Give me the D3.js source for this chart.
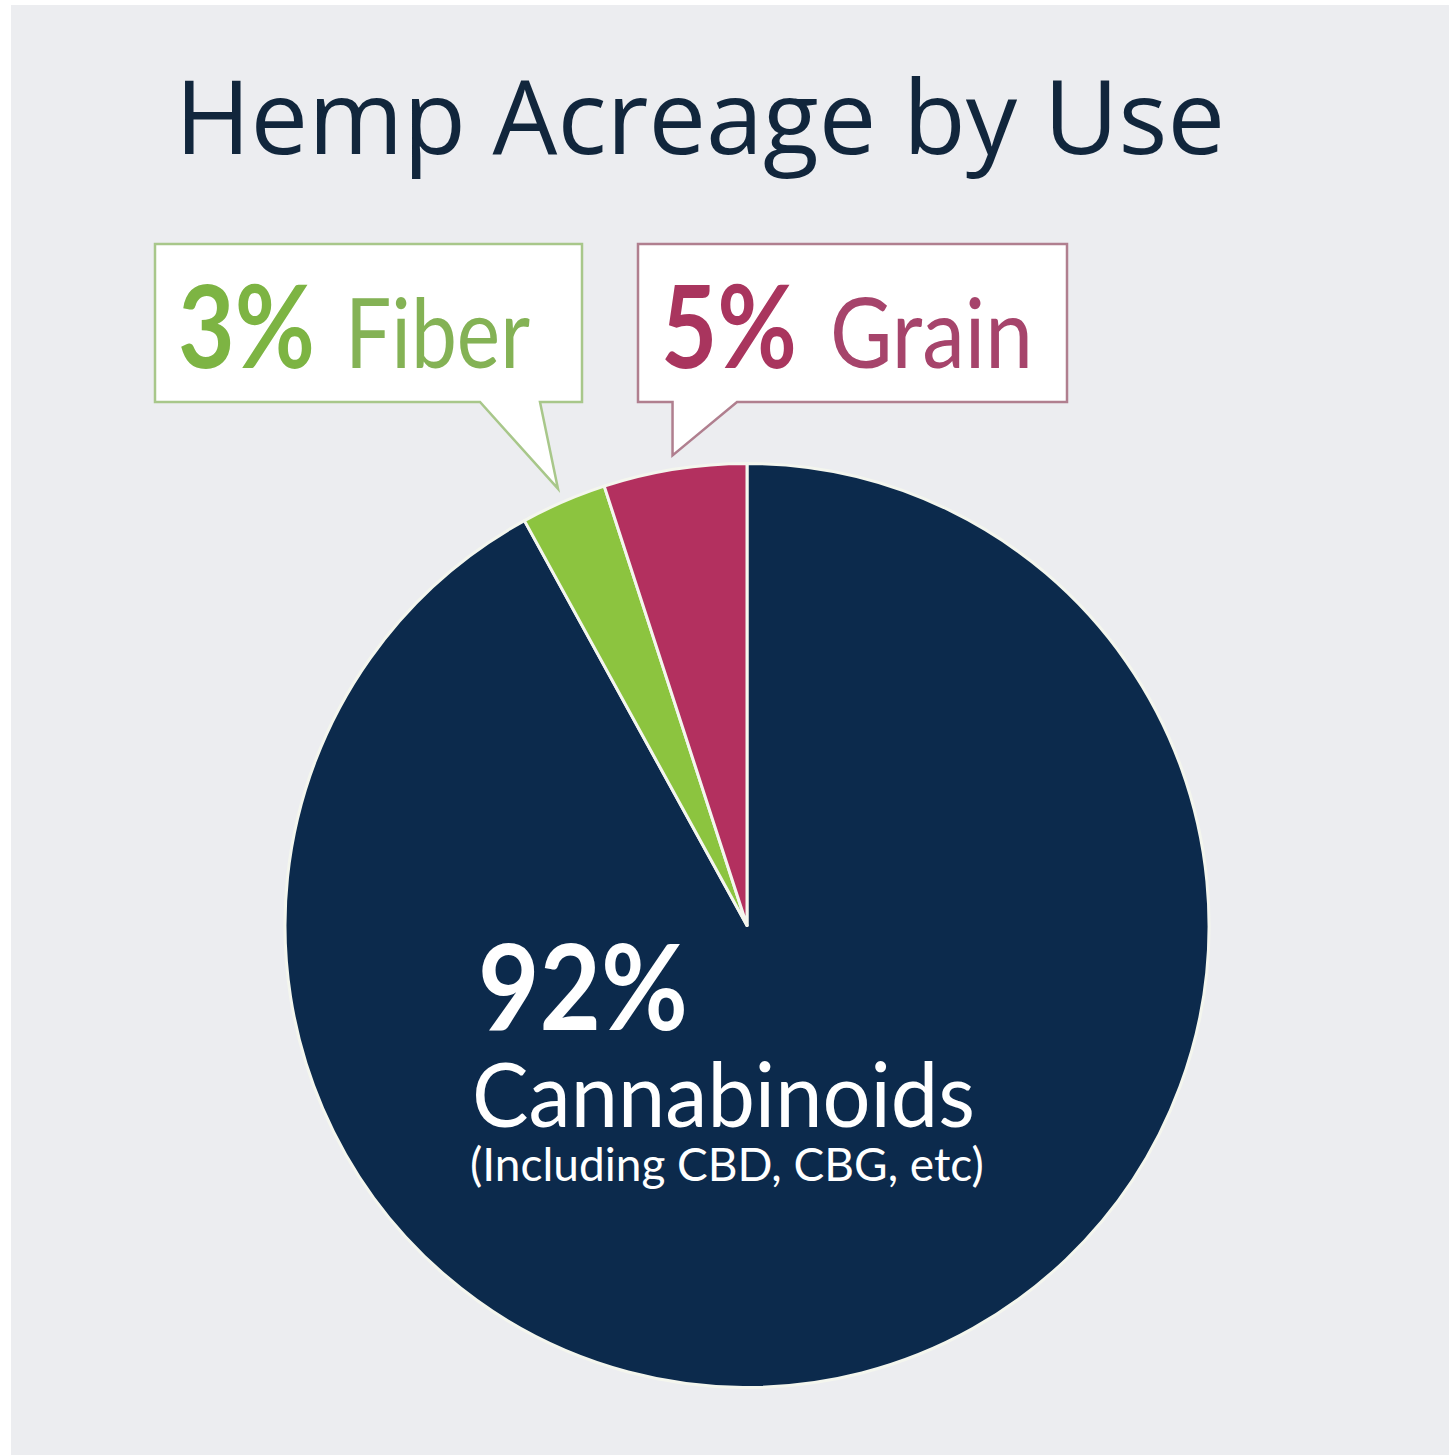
<!DOCTYPE html>
<html>
<head>
<meta charset="utf-8">
<script src="https://cdn.jsdelivr.net/npm/d3@7"></script>
<style>
  body { margin: 0; background: #ffffff; }
  svg { display: block; }
</style>
</head>
<body>
<div class="container"></div>
<script>
// data
var categories = ["Cannabinoids", "Fiber", "Grain"];
var shares = [92, 3, 5];
var subNote = "(Including CBD, CBG, etc)";
var title = "Hemp Acreage by Use";

// frame
var w = 1449;
var h = 1455;
var svg = d3.select(".container").append("svg").attr("width", w).attr("height", h);

svg.append("rect")
  .attr("x", 11).attr("y", 5)
  .attr("width", w - 11).attr("height", h - 5)
  .attr("fill", "#ecedf0");

// title
var titleText = svg.append("text")
  .attr("x", 175).attr("y", 154)
  .attr("font-family", "'Open Sans', sans-serif")
  .attr("font-size", 102)
  .attr("fill", "#11263c")
  .text(title);
fitWidth(titleText, 1050);

// pie
var cx = 747, cy = 925.5, r = 462;
var color = d3.scaleOrdinal()
  .domain(categories)
  .range(["#0c2a4c", "#8cc43f", "#b3305f"]);

var pie = d3.pie().sort(null).value(function(d){ return d.value; });
var rows = categories.map(function(c, i){ return {name: c, value: shares[i]}; });
var arcs = pie(rows);
var arc = d3.arc().innerRadius(0).outerRadius(r);

var g = svg.append("g").attr("transform", "translate(" + cx + "," + cy + ")");
g.selectAll("path")
  .data(arcs)
  .enter()
  .append("path")
  .attr("d", arc)
  .attr("fill", function(d){ return color(d.data.name); })
  .attr("stroke", "#f4f6ee")
  .attr("stroke-width", 3)
  .attr("stroke-linejoin", "round");

// callouts for small slices
var callouts = {
  Fiber: {x: 155, y: 244, w: 427, h: 158, base: [480, 540], stroke: "#a8c78a",
          pct: "#7db443", word: "#84b255", wordX: 345, pctW: 137, wordW: 185},
  Grain: {x: 638, y: 244, w: 429, h: 158, base: [null, 737], stroke: "#b07f8f",
          pct: "#a9355e", word: "#a6446b", wordX: 830, pctW: 136, wordW: 203}
};

arcs.forEach(function(a){
  var c = callouts[a.data.name];
  if(!c) return;
  var mid = (a.startAngle + a.endAngle) / 2;
  var tipR = r + 14;
  var tx = cx + tipR * Math.sin(mid);
  var ty = cy - tipR * Math.cos(mid);
  var b0 = c.base[0] == null ? tx : c.base[0];
  var b1 = c.base[1];
  var bottom = c.y + c.h;
  var p = d3.path();
  p.moveTo(c.x, c.y);
  p.lineTo(c.x + c.w, c.y);
  p.lineTo(c.x + c.w, bottom);
  p.lineTo(b1, bottom);
  p.lineTo(tx, ty);
  p.lineTo(b0, bottom);
  p.lineTo(c.x, bottom);
  p.closePath();
  svg.append("path")
    .attr("d", p.toString())
    .attr("fill", "#ffffff")
    .attr("stroke", c.stroke)
    .attr("stroke-width", 2.5);

  var pctText = svg.append("text")
    .attr("x", c.x + 23).attr("y", 368)
    .attr("font-family", "Lato, sans-serif")
    .attr("font-weight", 700)
    .attr("font-size", 114)
    .attr("fill", c.pct)
    .text(a.data.value + "%");
  fitWidth(pctText, c.pctW);

  var wordText = svg.append("text")
    .attr("x", c.wordX).attr("y", 368)
    .attr("font-family", "Lato, sans-serif")
    .attr("font-size", 96)
    .attr("fill", c.word)
    .text(a.data.name);
  fitWidth(wordText, c.wordW);
});

// big slice label
var big = arcs[0];
var bigPct = svg.append("text")
  .attr("x", 478).attr("y", 1030)
  .attr("font-family", "Lato, sans-serif")
  .attr("font-weight", 700)
  .attr("font-size", 118)
  .attr("fill", "#ffffff")
  .text(big.data.value + "%");
fitWidth(bigPct, 210);

var bigName = svg.append("text")
  .attr("x", 472).attr("y", 1127)
  .attr("font-family", "Lato, sans-serif")
  .attr("font-size", 90)
  .attr("fill", "#ffffff")
  .text(big.data.name);
fitWidth(bigName, 503);

var bigNote = svg.append("text")
  .attr("x", 470).attr("y", 1181)
  .attr("font-family", "Lato, sans-serif")
  .attr("font-size", 46)
  .attr("fill", "#ffffff")
  .text(subNote);
fitWidth(bigNote, 515);

// squeeze or stretch a text to the width seen in the picture
function fitWidth(sel, target){
  var len = sel.node().getComputedTextLength();
  if(Math.abs(len - target) > 2){
    sel.attr("textLength", target).attr("lengthAdjust", "spacingAndGlyphs");
  }
}
</script>
</body>
</html>
